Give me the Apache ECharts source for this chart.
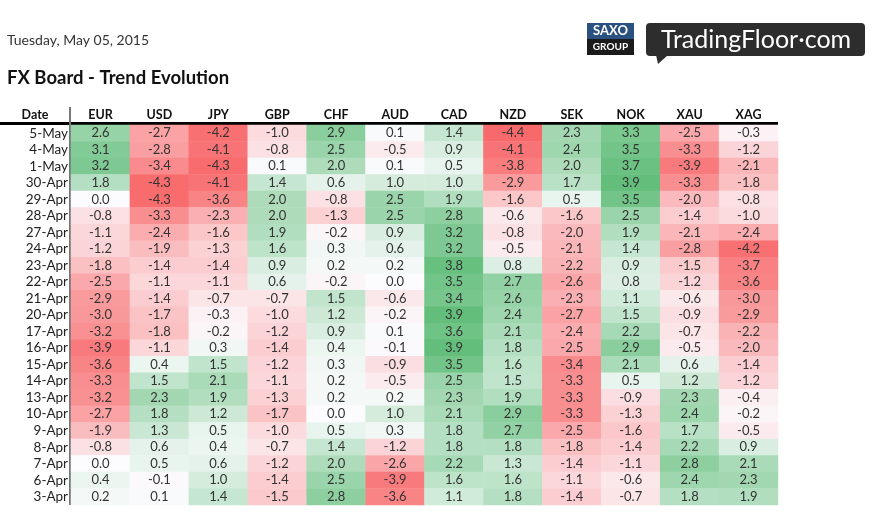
<!DOCTYPE html>
<html>
<head>
<meta charset="utf-8">
<script src="https://cdn.jsdelivr.net/npm/echarts@6/dist/echarts.min.js"></script>
<style>
html,body{margin:0;padding:0;background:#fff;}
#chart{width:872px;height:532px;}
</style>
</head>
<body>
<div id="chart"></div>
<script>
var dates = ['5-May','4-May','1-May','30-Apr','29-Apr','28-Apr','27-Apr','24-Apr','23-Apr','22-Apr','21-Apr','20-Apr','17-Apr','16-Apr','15-Apr','14-Apr','13-Apr','10-Apr','9-Apr','8-Apr','7-Apr','6-Apr','3-Apr'];
var currencies = ['EUR','USD','JPY','GBP','CHF','AUD','CAD','NZD','SEK','NOK','XAU','XAG'];
var EUR = [2.6,3.1,3.2,1.8,0.0,-0.8,-1.1,-1.2,-1.8,-2.5,-2.9,-3.0,-3.2,-3.9,-3.6,-3.3,-3.2,-2.7,-1.9,-0.8,0.0,0.4,0.2];
var USD = [-2.7,-2.8,-3.4,-4.3,-4.3,-3.3,-2.4,-1.9,-1.4,-1.1,-1.4,-1.7,-1.8,-1.1,0.4,1.5,2.3,1.8,1.3,0.6,0.5,-0.1,0.1];
var JPY = [-4.2,-4.1,-4.3,-4.1,-3.6,-2.3,-1.6,-1.3,-1.4,-1.1,-0.7,-0.3,-0.2,0.3,1.5,2.1,1.9,1.2,0.5,0.4,0.6,1.0,1.4];
var GBP = [-1.0,-0.8,0.1,1.4,2.0,2.0,1.9,1.6,0.9,0.6,-0.7,-1.0,-1.2,-1.4,-1.2,-1.1,-1.3,-1.7,-1.0,-0.7,-1.2,-1.4,-1.5];
var CHF = [2.9,2.5,2.0,0.6,-0.8,-1.3,-0.2,0.3,0.2,-0.2,1.5,1.2,0.9,0.4,0.3,0.2,0.2,0.0,0.5,1.4,2.0,2.5,2.8];
var AUD = [0.1,-0.5,0.1,1.0,2.5,2.5,0.9,0.6,0.2,0.0,-0.6,-0.2,0.1,-0.1,-0.9,-0.5,0.2,1.0,0.3,-1.2,-2.6,-3.9,-3.6];
var CAD = [1.4,0.9,0.5,1.0,1.9,2.8,3.2,3.2,3.8,3.5,3.4,3.9,3.6,3.9,3.5,2.5,2.3,2.1,1.8,1.8,2.2,1.6,1.1];
var NZD = [-4.4,-4.1,-3.8,-2.9,-1.6,-0.6,-0.8,-0.5,0.8,2.7,2.6,2.4,2.1,1.8,1.6,1.5,1.9,2.9,2.7,1.8,1.3,1.6,1.8];
var SEK = [2.3,2.4,2.0,1.7,0.5,-1.6,-2.0,-2.1,-2.2,-2.6,-2.3,-2.7,-2.4,-2.5,-3.4,-3.3,-3.3,-3.3,-2.5,-1.8,-1.4,-1.1,-1.4];
var NOK = [3.3,3.5,3.7,3.9,3.5,2.5,1.9,1.4,0.9,0.8,1.1,1.5,2.2,2.9,2.1,0.5,-0.9,-1.3,-1.6,-1.4,-1.1,-0.6,-0.7];
var XAU = [-2.5,-3.3,-3.9,-3.3,-2.0,-1.4,-2.1,-2.8,-1.5,-1.2,-0.6,-0.9,-0.7,-0.5,0.6,1.2,2.3,2.4,1.7,2.2,2.8,2.4,1.8];
var XAG = [-0.3,-1.2,-2.1,-1.8,-0.8,-1.0,-2.4,-4.2,-3.7,-3.6,-3.0,-2.9,-2.2,-2.0,-1.4,-1.2,-0.4,-0.2,-0.5,0.9,2.1,2.3,1.9];

var columns = [EUR,USD,JPY,GBP,CHF,AUD,CAD,NZD,SEK,NOK,XAU,XAG];

var allVals = [].concat.apply([], columns);
var vMin = Math.min.apply(null, allVals), vMax = Math.max.apply(null, allVals);
var RED = [248,105,107], WHITE = [252,252,255], GREEN = [99,190,123];
function mix(a,b,t){return 'rgb('+a.map(function(x,i){return Math.round(x+(b[i]-x)*t);}).join(',')+')';}
function colorFor(v){
  if (v < 0) return mix(WHITE, RED, v / vMin);
  return mix(WHITE, GREEN, v / vMax);
}

var data = [];
columns.forEach(function(col, ci){
  col.forEach(function(v, ri){
    data.push({value:[ci, ri, v], itemStyle:{color: colorFor(v)}});
  });
});

var FONT = 'Lato, "Open Sans", sans-serif';
var chart = echarts.init(document.getElementById('chart'), null, {renderer:'canvas'});
chart.setOption({
  backgroundColor:'#fff',
  animation:false,
  grid:{left:71, right:94, top:125, height:380},
  xAxis:{
    type:'category', data:currencies, position:'top',
    axisLine:{show:false}, axisTick:{show:false}, splitLine:{show:false},
    axisLabel:{interval:0, fontFamily:FONT, fontWeight:'bold', fontSize:12.5, color:'#111', margin:4}
  },
  yAxis:{
    type:'category', data:dates, inverse:true,
    axisLine:{show:false}, axisTick:{show:false}, splitLine:{show:false},
    axisLabel:{interval:0, fontFamily:FONT, fontSize:13.5, color:'#222', margin:3}
  },
  series:[{
    type:'heatmap',
    data:data,
    label:{show:true, fontFamily:FONT, fontSize:13, color:'#333',
      formatter:function(p){return p.value[2].toFixed(1);}},
    itemStyle:{borderWidth:0},
    emphasis:{disabled:true}
  }],
  graphic:[
    {type:'text', left:7, top:33, style:{text:'Tuesday, May 05, 2015', font:'14px '+FONT, fill:'#333'}},
    {type:'text', left:7, top:69, style:{text:'FX Board - Trend Evolution', font:'bold 18.5px '+FONT, fill:'#111'}},
    {type:'text', x:35, y:115, style:{text:'Date', font:'bold 12.5px '+FONT, fill:'#111', align:'center', verticalAlign:'middle'}},
    {type:'rect', shape:{x:0, y:122, width:778, height:3}, style:{fill:'#000'}},
    {type:'rect', shape:{x:69, y:107, width:2, height:398}, style:{fill:'#777'}},
    // SAXO GROUP logo
    {type:'rect', shape:{x:587, y:23, width:47, height:16}, style:{fill:'#2b5180'}},
    {type:'rect', shape:{x:587, y:39, width:47, height:16}, style:{fill:'#1b1b1b'}},
    {type:'text', x:610.5, y:31, style:{text:'SAXO', font:'bold 13px '+FONT, fill:'#fff', align:'center', verticalAlign:'middle'}},
    {type:'text', x:610.5, y:47, style:{text:'GROUP', font:'bold 10px '+FONT, fill:'#fff', align:'center', verticalAlign:'middle'}},
    // TradingFloor logo
    {type:'rect', shape:{x:646, y:23, width:219, height:33, r:4}, style:{fill:'#2d2d2d'}},
    {type:'polygon', shape:{points:[[656,55],[668,55],[658,64]]}, style:{fill:'#2d2d2d'}},
    {type:'text', x:756, y:40, style:{text:'TradingFloor\u00b7com', font:'25px '+FONT, fill:'#fff', align:'center', verticalAlign:'middle'}}
  ]
});
</script>
</body>
</html>
